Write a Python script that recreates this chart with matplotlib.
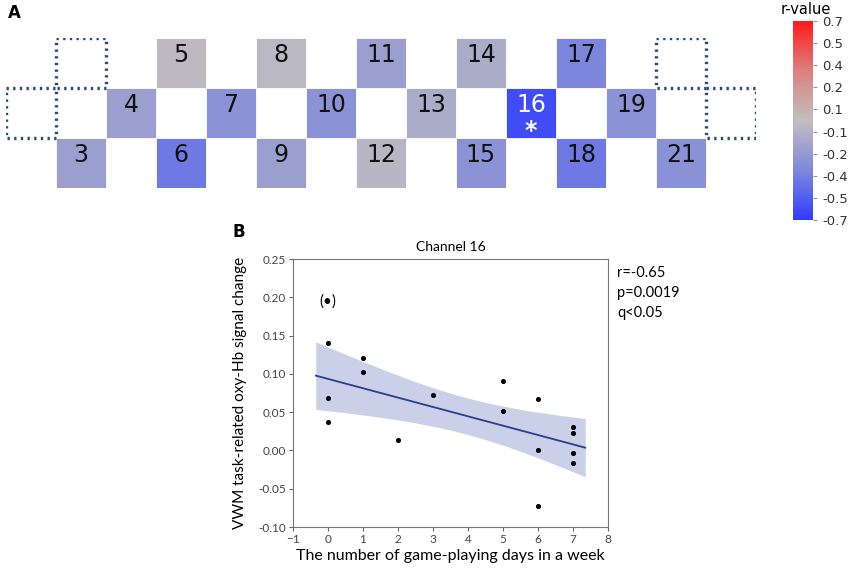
import numpy as np
import matplotlib
matplotlib.use("Agg")
import matplotlib.pyplot as plt
from matplotlib.colors import LinearSegmentedColormap, Normalize
from matplotlib.patches import Rectangle
from matplotlib.ticker import FormatStrFormatter

channels = [3, 4, 5, 6, 7, 8, 9, 10, 11, 12, 13, 14, 15, 16, 17, 18, 19, 21]
ch_col = [1, 2, 3, 3, 4, 5, 5, 6, 7, 7, 8, 9, 9, 10, 11, 11, 12, 13]
ch_row = [2, 1, 0, 2, 1, 0, 2, 1, 0, 2, 1, 0, 2, 1, 0, 2, 1, 2]
r_values = [-0.20, -0.20, -0.03, -0.42, -0.28, -0.04, -0.20, -0.28, -0.20, -0.05,
            -0.12, -0.12, -0.28, -0.62, -0.36, -0.42, -0.28, -0.29]
empty_col = [1, 0, 13, 14]
empty_row = [0, 1, 0, 1]

# panel B: scatter data
days = [0, 0, 0, 1, 1, 2, 3, 5, 5, 6, 6, 6, 7, 7, 7, 7]
signal = [0.140, 0.068, 0.037, 0.121, 0.103, 0.014, 0.072, 0.091, 0.052,
          0.067, 0.000, -0.072, 0.030, 0.023, -0.004, -0.017]
outlier_x, outlier_y = 0, 0.194

W, H = 850, 568
fig = plt.figure(figsize=(8.5, 5.68), dpi=100)

def frac(x0, y0, x1, y1):
    return [x0 / W, 1 - y1 / H, (x1 - x0) / W, (y1 - y0) / H]

cmap = LinearSegmentedColormap.from_list(
    "rv", [(0.0, "#2f3cff"), (0.25, "#7e88dc"), (0.5, "#c2bebe"),
           (0.75, "#dc8080"), (1.0, "#ff1a1a")])
norm = Normalize(-0.7, 0.7)

# ---- panel A
axA = fig.add_axes(frac(6, 38, 756, 188))
axA.set_xlim(0, 15)
axA.set_ylim(3, 0)
axA.axis("off")
for ch, c, r, v in zip(channels, ch_col, ch_row, r_values):
    axA.add_patch(Rectangle((c, r), 1, 1, facecolor=cmap(norm(v)),
                            edgecolor="white", lw=0.6))
    col = "white" if ch == 16 else "#111111"
    axA.text(c + 0.5, r + 0.33, str(ch), ha="center", va="center",
             fontsize=17, color=col, family="DejaVu Sans")
    if ch == 16:
        axA.text(c + 0.5, r + 0.85, "*", ha="center", va="center",
                 fontsize=17, color="white", fontweight="bold")
for c, r in zip(empty_col, empty_row):
    axA.add_patch(Rectangle((c, r), 1, 1, facecolor="none", edgecolor="#2e4a72",
                            lw=2.4, linestyle=(0, (0.7, 1.3))))

# colorbar
cax = fig.add_axes(frac(793, 21, 813, 220))
sm = plt.cm.ScalarMappable(norm=norm, cmap=cmap)
cb = fig.colorbar(sm, cax=cax)
ticks = np.linspace(-0.7, 0.7, 10)
cb.set_ticks(ticks)
cb.set_ticklabels(["%.1f" % t for t in ticks])
cb.outline.set_visible(False)
cax.tick_params(labelsize=9.5, length=3, color="#999999", labelcolor="#333333")
fig.text(806 / W, 1 - 9 / H, "r-value", ha="center", va="center", fontsize=10.5)

fig.text(8 / W, 1 - 13 / H, "A", fontsize=12, fontweight="bold", va="center")
fig.text(233 / W, 1 - 232 / H, "B", fontsize=12, fontweight="bold", va="center")

# ---- panel B
plt.rcParams["font.family"] = ["Lato", "DejaVu Sans"]
axB = fig.add_axes(frac(293, 259, 608, 527))
x = np.array(days, float)
y = np.array(signal)
n = len(x)
slope, icpt = np.polyfit(x, y, 1)
resid = y - (slope * x + icpt)
s = np.sqrt(np.sum(resid ** 2) / (n - 2))
xg = np.linspace(x.min() - 0.35, x.max() + 0.35, 100)
yg = slope * xg + icpt
se = s * np.sqrt(1 / n + (xg - x.mean()) ** 2 / np.sum((x - x.mean()) ** 2))
t = 2.145
axB.fill_between(xg, yg - t * se, yg + t * se, color="#c9d0e8", lw=0)
axB.plot(xg, yg, color="#2b3f8f", lw=1.3)
axB.scatter(x, y, s=7, color="black", zorder=3)
axB.text(outlier_x, outlier_y, "(•)", ha="center", va="center", fontsize=11)

axB.set_xlim(-1, 8)
axB.set_ylim(-0.10, 0.25)
axB.set_xticks(range(-1, 9))
axB.set_yticks(np.arange(-0.10, 0.26, 0.05))
axB.yaxis.set_major_formatter(FormatStrFormatter("%.2f"))
axB.tick_params(labelsize=8.5, length=3, color="#666666", labelcolor="#444444", pad=2)
for sp in axB.spines.values():
    sp.set_color("#777777")
axB.set_title("Channel 16", fontsize=10, pad=6)
axB.set_xlabel("The number of game-playing days in a week", fontsize=11.5, labelpad=3)
axB.set_ylabel("VWM task-related oxy-Hb signal change", fontsize=11, labelpad=8)

fig.text(617 / W, 1 - 266 / H, "r=-0.65\np=0.0019\nq<0.05", ha="left", va="top",
         fontsize=10.5, linespacing=1.55)

fig.savefig("out.png", dpi=100)
